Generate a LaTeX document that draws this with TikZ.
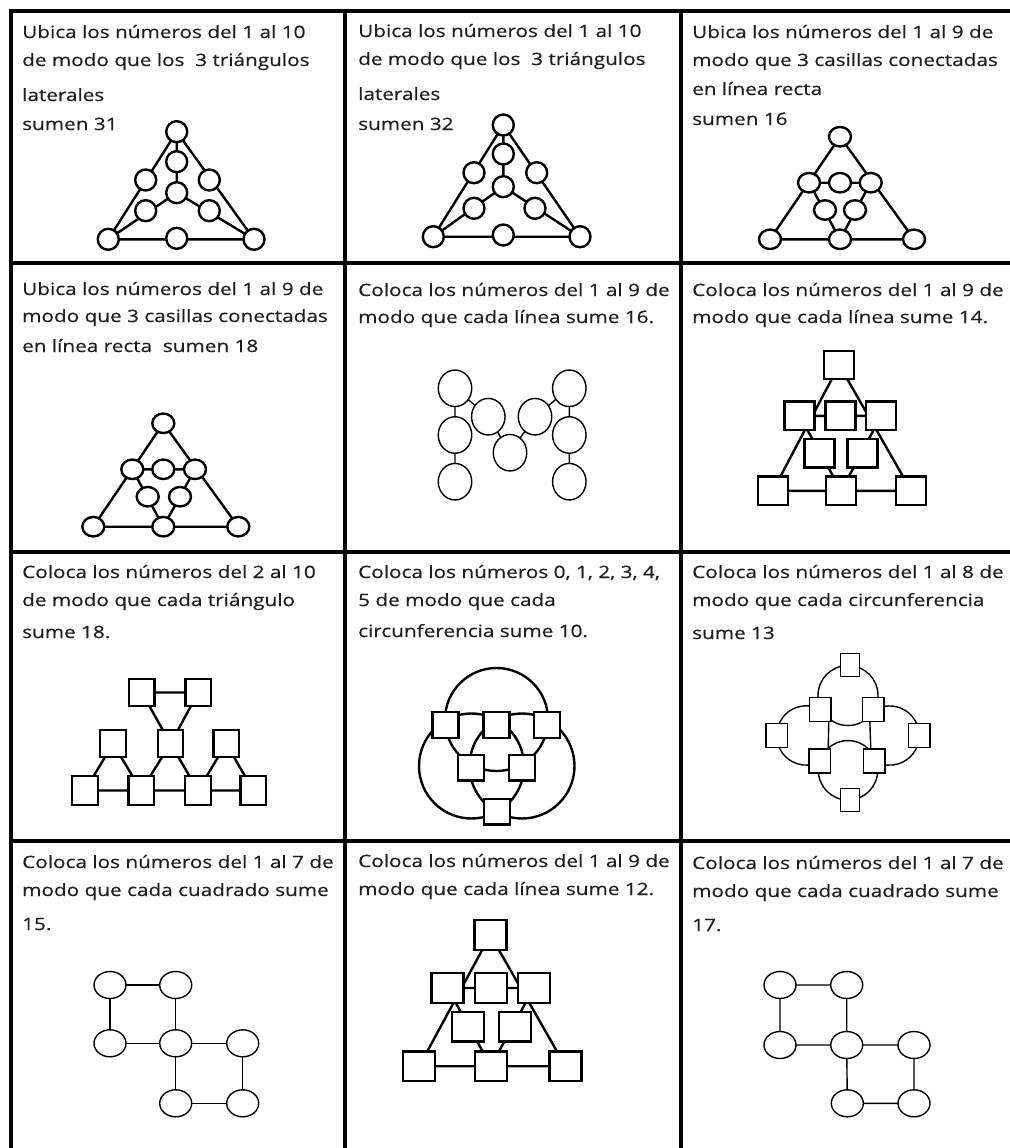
\documentclass[tikz,border=0pt]{standalone}
\usepackage{fontspec}
\setmainfont{Open Sans}[FakeStretch=1.22,FakeBold=0.5]
\usetikzlibrary{shapes.geometric}
\pgfdeclarelayer{paper}
\pgfdeclarelayer{bg}
\pgfsetlayers{paper,bg,main}
\tikzset{
  rule/.style={line width=3.5pt, line cap=rect},
  txt/.style={anchor=base west, inner sep=0pt, text=black!88, font=\fontsize{17}{20}\selectfont},
  thk/.style={line width=2.4pt},
  thn/.style={line width=1.4pt},
  rc/.style={circle, draw, thk, fill=white, minimum size=21pt, inner sep=0pt},
  ec/.style={ellipse, draw, thk, fill=white, minimum width=22pt, minimum height=19.5pt, inner sep=0pt},
  mc/.style={ellipse, draw, thn, fill=white, minimum width=33.5pt, minimum height=36.5pt, inner sep=0pt},
  oc/.style={ellipse, draw, thn, fill=white, minimum width=32pt, minimum height=27pt, inner sep=0pt},
  sqf/.style={rectangle, draw, thk, fill=white, minimum width=30pt, minimum height=28.5pt, inner sep=0pt},
  sqk/.style={rectangle, draw, thk, fill=white, minimum width=32pt, minimum height=29.5pt, inner sep=0pt},
  sqg/.style={rectangle, draw, thk, fill=white, minimum width=25.5pt, minimum height=27pt, inner sep=0pt},
  sqgb/.style={sqg, minimum height=29.5pt},
  sqh/.style={rectangle, draw, thk, fill=white, minimum width=26pt, minimum height=25.5pt, inner sep=0pt},
  sqi/.style={rectangle, draw, thn, fill=white, minimum width=21.5pt, minimum height=24pt, inner sep=0pt},
  sqit/.style={sqi, minimum width=19pt, minimum height=22.5pt},
}
\begin{document}
\begin{tikzpicture}[x=1pt,y=-1pt]
\useasboundingbox (0,0) rectangle (1009,1148);
\begin{pgfonlayer}{paper}
\fill[white] (0,0) rectangle (1009,1148);
\end{pgfonlayer}
% table rules
\draw[rule] (11,11) -- (1009,11);
\draw[rule] (11,263) -- (1009,263);
\draw[rule] (11,552) -- (1009,552);
\draw[rule] (11,841) -- (1009,841);
\draw[rule] (11,11) -- (11,1148);
\draw[rule] (345,11) -- (345,1148);
\draw[rule] (681,11) -- (681,1148);

% ---------- texts ----------
\node[txt] (t1a) at (22,38) {Ubica los números del 1 al 10};
\node[txt] (t1b) at (22,66) {de modo que los~ 3 triángulos};
\node[txt] (t1c) at (22,101) {laterales};
\node[txt] (t1d) at (22,130) {sumen 31};
\node[txt] (t2a) at (358,37) {Ubica los números del 1 al 10};
\node[txt] (t2b) at (358,65) {de modo que los~ 3 triángulos};
\node[txt] (t2c) at (358,100) {laterales};
\node[txt] (t2d) at (358,130) {sumen 32};
\node[txt] (t3a) at (692,38) {Ubica los números del 1 al 9 de};
\node[txt] (t3b) at (692,66) {modo que 3 casillas conectadas};
\node[txt] (t3c) at (692,95) {en línea recta};
\node[txt] (t3d) at (692,125) {sumen 16};
\node[txt] (t4a) at (22,295) {Ubica los números del 1 al 9 de};
\node[txt] (t4b) at (22,322) {modo que 3 casillas conectadas};
\node[txt] (t4c) at (22,352) {en línea recta~ sumen 18};
\node[txt] (t5a) at (358,296) {Coloca los números del 1 al 9 de};
\node[txt] (t5b) at (358,323) {modo que cada línea sume 16.};
\node[txt] (t6a) at (692,296) {Coloca los números del 1 al 9 de};
\node[txt] (t6b) at (692,323) {modo que cada línea sume 14.};
\node[txt] (t7a) at (22,578) {Coloca los números del 2 al 10};
\node[txt] (t7b) at (22,606) {de modo que cada triángulo};
\node[txt] (t7c) at (22,638) {sume 18.};
\node[txt] (t8a) at (358,578) {Coloca los números 0, 1, 2, 3, 4,};
\node[txt] (t8b) at (358,606) {5 de modo que cada};
\node[txt] (t8c) at (358,637) {circunferencia sume 10.};
\node[txt] (t9a) at (692,578) {Coloca los números del 1 al 8 de};
\node[txt] (t9b) at (692,606) {modo que cada circunferencia};
\node[txt] (t9c) at (692,639) {sume 13};
\node[txt] (t10a) at (22,868) {Coloca los números del 1 al 7 de};
\node[txt] (t10b) at (22,896) {modo que cada cuadrado sume};
\node[txt] (t10c) at (22,930) {15.};
\node[txt] (t11a) at (358,867) {Coloca los números del 1 al 9 de};
\node[txt] (t11b) at (358,895) {modo que cada línea sume 12.};
\node[txt] (t12a) at (692,869) {Coloca los números del 1 al 7 de};
\node[txt] (t12b) at (692,897) {modo que cada cuadrado sume};
\node[txt] (t12c) at (692,931) {17.};

% ---------- cell 1 ----------
\node[rc] (A1) at (176.7,131.7) {};
\node[rc] (A2) at (176.7,161.7) {};
\node[rc] (A3) at (145.7,180) {};
\node[rc] (A4) at (209.3,180) {};
\node[rc] (A5) at (176.7,192.7) {};
\node[rc] (A6) at (145.7,210.7) {};
\node[rc] (A7) at (209.3,210.7) {};
\node[rc] (A8) at (108.3,239.3) {};
\node[rc] (A9) at (176.7,238.3) {};
\node[rc] (A10) at (254,239.3) {};
% ---------- cell 2 ----------
\node[rc] (B1) at (503.3,125) {};
\node[rc] (B2) at (503.3,154) {};
\node[rc] (B3) at (474,172.7) {};
\node[rc] (B4) at (536.7,172.7) {};
\node[rc] (B5) at (503.3,186.7) {};
\node[rc] (B6) at (474,208.3) {};
\node[rc] (B7) at (535,208.3) {};
\node[rc] (B8) at (433.3,236.7) {};
\node[rc] (B9) at (503.3,235) {};
\node[rc] (B10) at (580,236.7) {};
% ---------- cell 3 ----------
\node[ec] (C1) at (840,136.7) {};
\node[ec] (C2) at (809,182.7) {};
\node[ec] (C3) at (840,182.7) {};
\node[ec] (C4) at (870.7,182.7) {};
\node[ec] (C5) at (825,210) {};
\node[ec] (C6) at (855,210) {};
\node[ec] (C7) at (770,239.3) {};
\node[ec] (C8) at (840,239.3) {};
\node[ec] (C9) at (914,239.3) {};
% ---------- cell 4 ----------
\node[ec] (D1) at (163.3,423.3) {};
\node[ec] (D2) at (132.3,469.3) {};
\node[ec] (D3) at (163.3,469.3) {};
\node[ec] (D4) at (195,469.3) {};
\node[ec] (D5) at (147.7,496.7) {};
\node[ec] (D6) at (180,496.7) {};
\node[ec] (D7) at (93.3,526.7) {};
\node[ec] (D8) at (163.3,526.7) {};
\node[ec] (D9) at (238.3,526.7) {};
% ---------- cell 5 ----------
\node[mc] (E1) at (455,388.3) {};
\node[mc] (E2) at (455,435) {};
\node[mc] (E3) at (455,481.7) {};
\node[mc] (E4) at (488.3,416.7) {};
\node[mc] (E5) at (510,452.7) {};
\node[mc] (E6) at (535,416.7) {};
\node[mc] (E7) at (569.3,388.3) {};
\node[mc] (E8) at (569.3,435) {};
\node[mc] (E9) at (569.3,481.7) {};
% ---------- cell 6 ----------
\node[sqf] (F1) at (839.2,365) {};
\node[sqf] (F2) at (799.5,415.8) {};
\node[sqf] (F3) at (840.3,415.8) {};
\node[sqf] (F4) at (881.2,415.8) {};
\node[sqf] (F5) at (819.5,453.3) {};
\node[sqf] (F6) at (862.5,453.3) {};
\node[sqf] (F7) at (772.8,490.8) {};
\node[sqf] (F8) at (841.2,490.8) {};
\node[sqf] (F9) at (911.2,490.8) {};
% ---------- cell 7 ----------
\node[sqg] (G1) at (141.7,692.5) {};
\node[sqg] (G2) at (198.3,692.5) {};
\node[sqg] (G3) at (113,743.7) {};
\node[sqg] (G4) at (170.5,743.7) {};
\node[sqg] (G5) at (226.2,743.7) {};
\node[sqgb] (G6) at (85,790.5) {};
\node[sqgb] (G7) at (141.2,790.5) {};
\node[sqgb] (G8) at (198,790.5) {};
\node[sqgb] (G9) at (253.3,790.5) {};
% ---------- cell 8 ----------
\node[sqh] (H1) at (445.5,725) {};
\node[sqh] (H2) at (496.3,725) {};
\node[sqh] (H3) at (546.7,725) {};
\node[sqh] (H4) at (471.2,767.8) {};
\node[sqh] (H5) at (521.7,767.8) {};
\node[sqh] (H6) at (497,811.7) {};
% ---------- cell 9 ----------
\node[sqit] (I1) at (850,665) {};
\node[sqi] (I2) at (820.3,709.2) {};
\node[sqi] (I3) at (873.3,709.2) {};
\node[sqi] (I4) at (776.7,735.5) {};
\node[sqi] (I5) at (919.2,735.5) {};
\node[sqi] (I6) at (819.8,760.8) {};
\node[sqi] (I7) at (874.2,760.8) {};
\node[sqit] (I8) at (850,800) {};
% ---------- cell 10 ----------
\node[oc] (J1) at (110,985) {};
\node[oc] (J2) at (175.7,985) {};
\node[oc] (J3) at (110,1043.3) {};
\node[oc] (J4) at (175.7,1043.3) {};
\node[oc] (J5) at (242.7,1043.3) {};
\node[oc] (J6) at (175.7,1103.3) {};
\node[oc] (J7) at (242.7,1103.3) {};
% ---------- cell 11 ----------
\node[sqk] (K1) at (490.3,935) {};
\node[sqk] (K2) at (447.5,988) {};
\node[sqk] (K3) at (490.8,988) {};
\node[sqk] (K4) at (533.7,988) {};
\node[sqk] (K5) at (467.8,1026.7) {};
\node[sqk] (K6) at (515,1026.7) {};
\node[sqk] (K7) at (419.2,1066.2) {};
\node[sqk] (K8) at (490.8,1066.2) {};
\node[sqk] (K9) at (565.5,1066.2) {};
% ---------- cell 12 ----------
\node[oc] (L1) at (780,985) {};
\node[oc] (L2) at (846.7,985) {};
\node[oc] (L3) at (780,1045) {};
\node[oc] (L4) at (846.7,1045) {};
\node[oc] (L5) at (914,1045) {};
\node[oc] (L6) at (847.3,1103.3) {};
\node[oc] (L7) at (914,1103.3) {};

\begin{pgfonlayer}{bg}
% cell 1
\draw[thk] (A1.center) -- (A8.center) (A1.center) -- (A10.center) (A8.center) -- (A10.center)
  (A1.center) -- (A5.center) (A5.center) -- (A8.center) (A5.center) -- (A10.center);
% cell 2
\draw[thk] (B1.center) -- (B8.center) (B1.center) -- (B10.center) (B8.center) -- (B10.center)
  (B1.center) -- (B5.center) (B5.center) -- (B8.center) (B5.center) -- (B10.center);
% cell 3
\draw[thk] (C1.center) -- (C7.center) (C1.center) -- (C9.center) (C7.center) -- (C9.center)
  (C2.center) -- (C4.center) (C2.center) -- (C8.center) (C4.center) -- (C8.center);
% cell 4
\draw[thk] (D1.center) -- (D7.center) (D1.center) -- (D9.center) (D7.center) -- (D9.center)
  (D2.center) -- (D4.center) (D2.center) -- (D8.center) (D4.center) -- (D8.center);
% cell 5
\draw[thn] (E1.center) -- (E3.center) (E7.center) -- (E9.center)
  (E1.center) -- (E4.center) -- (E5.center) -- (E6.center) -- (E7.center);
% cell 6
\draw[thk] (F1.center) -- (F7.center) (F1.center) -- (F9.center) (F7.center) -- (F9.center)
  (F2.center) -- (F4.center) (F2.center) -- (F8.center) (F4.center) -- (F8.center);
% cell 7
\draw[thk] (G1.center) -- (G2.center) (G1.center) -- (G4.center) (G2.center) -- (G4.center)
  (G3.center) -- (G6.center) (G3.center) -- (G7.center) (G4.center) -- (G7.center)
  (G4.center) -- (G8.center) (G5.center) -- (G8.center) (G5.center) -- (G9.center)
  (G6.center) -- (G9.center);
% cell 8
\draw[thk] (496.5,719.5) circle[radius=51.5];
\draw[thk] (471.5,766) circle[radius=52.5];
\draw[thk] (522,766) circle[radius=52.5];
% cell 9
\draw[thn] (848,695.5) circle[radius=30];
\draw[thn] (848,770.3) circle[radius=29.7];
\draw[thn] (820.3,761.7) arc[start angle=62, end angle=298, radius=29.7];
\draw[thn] (875.7,761.7) arc[start angle=118, end angle=-118, radius=29.6];
\draw[thn] ([xshift=-3pt]I2.south east) -- ([xshift=-3pt]I6.north east);
\draw[thn] ([xshift=8pt]I3.south west) -- ([xshift=8pt]I7.north west);
% cell 10
\draw[thn] (J1.center) -- (J2.center) (J1.center) -- (J3.center) (J2.center) -- (J4.center)
  (J3.center) -- (J4.center) (J4.center) -- (J5.center) (J4.center) -- (J6.center)
  (J5.center) -- (J7.center) (J6.center) -- (J7.center);
% cell 11
\draw[thk] (K1.center) -- (K7.center) (K1.center) -- (K9.center) (K7.center) -- (K9.center)
  (K2.center) -- (K4.center) (K2.center) -- (K8.center) (K4.center) -- (K8.center);
% cell 12
\draw[thn] (L1.center) -- (L2.center) (L1.center) -- (L3.center) (L2.center) -- (L4.center)
  (L3.center) -- (L4.center) (L4.center) -- (L5.center) (L4.center) -- (L6.center)
  (L5.center) -- (L7.center) (L6.center) -- (L7.center);
\end{pgfonlayer}
\end{tikzpicture}
\end{document}
